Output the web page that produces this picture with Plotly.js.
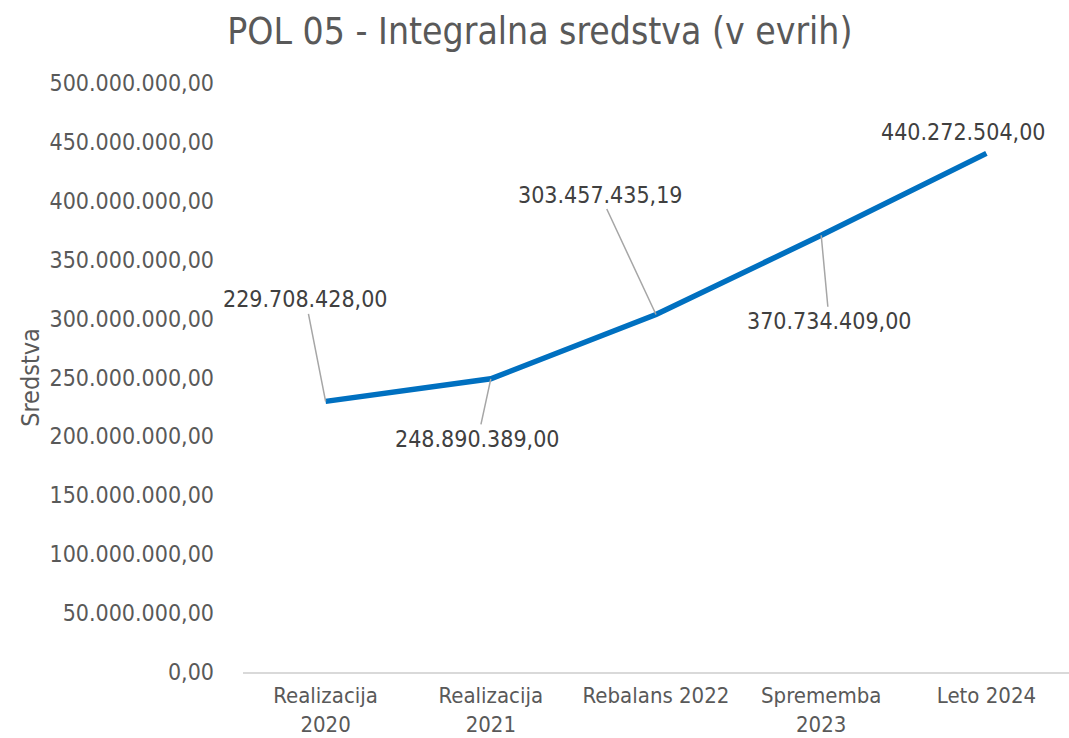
<!DOCTYPE html>
<html>
<head>
<meta charset="utf-8">
<script src="https://cdn.plot.ly/plotly-3.0.1.min.js"></script>
<style>html,body{margin:0;padding:0;background:#fff;}#chart{width:1069px;height:738px;}</style>
</head>
<body>
<div id="chart"></div>
<script>
const categories = ["Realizacija<br>2020", "Realizacija<br>2021", "Rebalans 2022", "Sprememba<br>2023", "Leto 2024"];
const values = [229708428.00, 248890389.00, 303457435.19, 370734409.00, 440272504.00];
const valueLabels = ["229.708.428,00", "248.890.389,00", "303.457.435,19", "370.734.409,00", "440.272.504,00"];
const yTickVals = [0, 50000000, 100000000, 150000000, 200000000, 250000000, 300000000, 350000000, 400000000, 450000000, 500000000];
const yTickLabels = ["0,00", "50.000.000,00", "100.000.000,00", "150.000.000,00", "200.000.000,00", "250.000.000,00", "300.000.000,00", "350.000.000,00", "400.000.000,00", "450.000.000,00", "500.000.000,00"];
const labelOffsets = [[-20, -102], [-13, 60], [-56, -120], [8, 86], [-23, -21]];

const FONT = "DejaVu Sans Condensed, Liberation Sans Narrow, DejaVu Sans, sans-serif";
const GREY = "#595959";

const annotations = values.map((v, i) => {
  const last = i === values.length - 1;
  const a = {
    x: categories[i], y: v, xref: "x", yref: "y",
    text: valueLabels[i],
    font: {family: FONT, size: 23, color: "#404040"},
    xanchor: "center", yanchor: "middle"
  };
  if (last) {
    a.showarrow = false;
    a.xshift = labelOffsets[i][0];
    a.yshift = -labelOffsets[i][1];
  } else {
    a.showarrow = true;
    a.arrowhead = 0;
    a.arrowwidth = 1.5;
    a.arrowcolor = "#A6A6A6";
    a.standoff = 0;
    a.ax = labelOffsets[i][0];
    a.ay = labelOffsets[i][1];
  }
  return a;
});

const trace = {
  type: "scatter", mode: "lines",
  x: categories, y: values,
  line: {color: "#0070C0", width: 5.5, shape: "linear"},
  hoverinfo: "skip"
};

const layout = {
  width: 1069, height: 738,
  margin: {l: 243, r: 0, t: 83, b: 66},
  paper_bgcolor: "#ffffff", plot_bgcolor: "#ffffff",
  showlegend: false,
  title: {
    text: "POL 05 - Integralna sredstva (v evrih)",
    font: {family: FONT, size: 37, color: GREY},
    x: 0.505, xref: "container", xanchor: "center",
    y: 0.958, yref: "container", yanchor: "middle"
  },
  xaxis: {
    type: "category",
    showgrid: false, zeroline: false,
    showline: true, linecolor: "#D9D9D9", linewidth: 2,
    ticks: "", ticklabelstandoff: 3,
    tickfont: {family: FONT, size: 22, color: GREY},
    range: [-0.5, 4.5]
  },
  yaxis: {
    range: [0, 500000000],
    showgrid: false, zeroline: false, showline: false,
    tickvals: yTickVals, ticktext: yTickLabels,
    ticks: "", ticklabelstandoff: 28,
    tickfont: {family: FONT, size: 23, color: GREY},
    title: {text: "Sredstva", font: {family: FONT, size: 25, color: GREY}, standoff: 2},
    automargin: false
  },
  annotations: annotations
};

Plotly.newPlot("chart", [trace], layout, {displayModeBar: false, staticPlot: true});
</script>
</body>
</html>
